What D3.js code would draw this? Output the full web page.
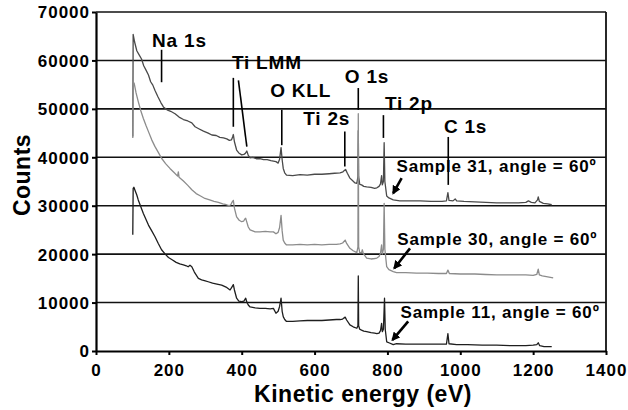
<!DOCTYPE html>
<html><head><meta charset="utf-8">
<script src="https://cdn.jsdelivr.net/npm/d3@7"></script>
<style>body{margin:0;background:#fff}text{font-family:"Liberation Sans",Arial,sans-serif;font-weight:bold;fill:#000}</style>
</head><body><svg id="c" width="628" height="410"></svg>
<script>
const xTicks=[0,200,400,600,800,1000,1200,1400];
const yTicks=[0,10000,20000,30000,40000,50000,60000,70000];
const sample31=[[101,44300],[102,65400],[106,63800],[112,62000],[118,61200],[125,60300],[131,58900],[138,57900],[144,57000],[150,55600],[156,54900],[162,53800],[170,52500],[178,51300],[185,50400],[195,49800],[205,49500],[217,49000],[228,48300],[240,47800],[252,47500],[263,47100],[272,46300],[282,45900],[295,45400],[308,45000],[318,44600],[330,44500],[340,44100],[350,44000],[359,43800],[366,43500],[372,43600],[375,44200],[377,44700],[380,43200],[386,41500],[392,40900],[400,40500],[406,40600],[410,40800],[414,41300],[418,40400],[423,39900],[430,40000],[440,39700],[450,39700],[460,39500],[470,39500],[480,39300],[487,39200],[494,39100],[500,38800],[504,39600],[508,42000],[511,39500],[514,37700],[518,36800],[523,36300],[540,36200],[560,36400],[580,36300],[600,36500],[620,36500],[640,36600],[655,36700],[670,36800],[678,37000],[685,37500],[690,36700],[697,35700],[704,35200],[711,34700],[716,34600],[719,36000],[720,45500],[721,36000],[724,34400],[729,34300],[735,34000],[743,33900],[755,33800],[765,33600],[771,33700],[777,34000],[781,34500],[784,36200],[786,34300],[789,35000],[791,43000],[793,35000],[798,32000],[804,31600],[816,31200],[834,31000],[860,31000],[890,31000],[920,30900],[950,30900],[962,31000],[966,32700],[969,31100],[980,31000],[986,31400],[990,31000],[1010,30900],[1040,30800],[1070,30700],[1100,30600],[1130,30600],[1160,30600],[1180,30700],[1187,31000],[1195,30700],[1205,30600],[1212,31200],[1214,31800],[1217,30900],[1228,30500],[1240,30400],[1251,30200]];
const sample30=[[101,44000],[102,55600],[105,55200],[110,53300],[116,51500],[123,49600],[130,48000],[137,46600],[144,45300],[153,43600],[162,42200],[171,41000],[180,39800],[191,38700],[203,37700],[215,36800],[224,36100],[226,37000],[228,35900],[240,35100],[252,34200],[263,33300],[275,32500],[287,32000],[299,31500],[312,31200],[324,30900],[336,30700],[348,30400],[358,30200],[365,30000],[370,30200],[374,30800],[377,31100],[380,29500],[386,27700],[393,27000],[400,26700],[405,26800],[409,27300],[411,27400],[414,26600],[418,25600],[423,25000],[437,24600],[450,24600],[465,24700],[478,24600],[487,24600],[494,24200],[500,24500],[504,25500],[508,28000],[511,24800],[514,22900],[518,22300],[523,21900],[540,21900],[560,22000],[580,21900],[600,22000],[620,21900],[640,22000],[660,22000],[670,22100],[677,22300],[684,22900],[688,22200],[697,21200],[706,20700],[716,20300],[719,21500],[720,49000],[721,21500],[724,20300],[729,20300],[731,20900],[734,20100],[743,19200],[755,19000],[765,19100],[771,19200],[777,19500],[781,20200],[784,21900],[786,20000],[789,21000],[791,30500],[793,21000],[798,17400],[804,16800],[816,16400],[825,16200],[850,16200],[880,16100],[910,16100],[940,16000],[962,16000],[966,16700],[970,16000],[1000,15900],[1040,15900],[1070,15800],[1100,15700],[1140,15700],[1180,15700],[1200,15600],[1210,15800],[1214,16900],[1217,15700],[1225,15500],[1240,15300],[1255,15100]];
const sample11=[[101,24000],[102,33600],[104,33800],[107,33200],[112,32200],[116,31200],[123,29800],[130,28400],[137,27200],[144,26000],[153,24800],[162,23600],[171,22200],[180,20900],[190,20000],[199,19300],[210,18800],[220,18300],[230,18000],[240,17800],[248,17600],[253,17400],[258,17700],[263,17400],[270,16300],[281,15000],[290,14700],[300,14500],[308,14300],[320,14000],[332,13800],[345,13600],[357,13200],[368,12600],[373,13200],[377,13700],[380,12600],[386,10900],[392,10300],[400,10200],[406,10300],[411,10900],[414,10100],[418,9500],[423,9100],[437,8900],[450,8800],[465,8800],[478,8700],[487,8800],[494,7800],[500,8200],[504,9200],[508,10900],[511,8200],[514,7100],[518,6500],[523,6100],[540,6100],[560,6200],[580,6300],[600,6300],[620,6300],[640,6400],[660,6500],[670,6500],[677,6600],[684,7000],[688,6400],[697,5400],[706,5000],[716,4700],[719,5200],[720,15500],[721,5200],[724,4500],[729,4300],[735,4100],[743,4000],[755,3800],[765,3700],[771,3600],[777,3700],[781,4200],[784,5700],[786,4000],[789,4500],[792,10900],[794,4500],[798,1900],[804,1700],[816,1300],[825,1500],[850,1400],[880,1400],[910,1400],[940,1400],[962,1400],[966,3600],[969,1500],[990,1300],[1020,1300],[1060,1200],[1100,1200],[1140,1100],[1180,1100],[1200,1200],[1210,1300],[1214,1700],[1218,1100],[1230,900],[1251,900]];
// peak labels: text anchor (eV, counts), pointer lines [[eV,counts],[eV,counts]]
const peakLabels=[
 {t:"Na 1s",x:154,y:62800,lines:[[[180,62200],[180,55500]]]},
 {t:"Ti LMM",x:373,y:58200,lines:[[[377,56400],[377,46300]],[[391,55900],[414,42200]]]},
 {t:"O KLL",x:478,y:52400,lines:[[[510,49800],[510,42500]]]},
 {t:"Ti 2s",x:569,y:46700,lines:[[[683,45300],[683,38100]]]},
 {t:"O 1s",x:683,y:55400,lines:[[[720,54300],[720,49800]]]},
 {t:"Ti 2p",x:793,y:49800,lines:[[[789,48700],[789,44000]]]},
 {t:"C 1s",x:955,y:45100,lines:[[[967,44200],[967,34300]]]}
];
const sampleLabels=[
 {t:"Sample 31, angle = 60º",x:825,y:37000,a:[[839,35700],[816,32600]]},
 {t:"Sample 30, angle = 60º",x:827,y:21900,a:[[862,21200],[819,17100]]},
 {t:"Sample 11, angle = 60º",x:836,y:6900,a:[[857,6100],[814,2300]]}
];
const svg=d3.select("#c");
const x=d3.scaleLinear().domain([0,1400]).range([96,606]);
const y=d3.scaleLinear().domain([0,70000]).range([351,12]);
svg.append("defs").append("marker").attr("id","ah").attr("viewBox","0 0 10 10").attr("refX",8).attr("refY",5)
 .attr("markerWidth",3.4).attr("markerHeight",3.4).attr("orient","auto").append("path").attr("d","M0,0L10,5L0,10Z").attr("fill","#000");
// gridlines
svg.append("g").selectAll("line").data(yTicks.filter(d=>d>0)).join("line")
 .attr("x1",x(0)).attr("x2",x(1400)).attr("y1",d=>y(d)).attr("y2",d=>y(d)).attr("stroke","#111").attr("stroke-width",1.6);
svg.append("line").attr("x1",x(1400)).attr("x2",x(1400)).attr("y1",y(70000)).attr("y2",y(0)).attr("stroke","#111").attr("stroke-width",1.8);
// curves
const line=d3.line().x(d=>x(d[0])).y(d=>y(d[1]));
[[sample31,"#4a4a4a"],[sample11,"#1e1e1e"],[sample30,"#8c8c8c"]].forEach(([s,c])=>{
 svg.append("path").datum(s).attr("d",line).attr("fill","none").attr("stroke",c).attr("stroke-width",1.3).attr("stroke-linejoin","round");
});
// axes
const ax=svg.append("g").attr("transform",`translate(0,${y(0)})`).call(d3.axisBottom(x).tickValues(xTicks).tickSize(4).tickSizeOuter(0).tickFormat(d3.format("d")));
const ay=svg.append("g").attr("transform",`translate(${x(0)},0)`).call(d3.axisLeft(y).tickValues(yTicks).tickSize(4).tickSizeOuter(0).tickFormat(d3.format("d")));
[ax,ay].forEach(g=>{g.select(".domain").attr("stroke","#000").attr("stroke-width",2.2);g.selectAll(".tick line").attr("stroke","#000").attr("stroke-width",2);
 g.selectAll("text").style("font-size","17px").attr("letter-spacing","1px").attr("fill","#000");});
ax.selectAll("text").attr("dy",null).attr("y",25);
ay.selectAll("text").attr("x",-6).attr("dy","0.35em");
// axis titles
svg.append("text").attr("x",363).attr("y",402).attr("text-anchor","middle").style("font-size","23px").attr("letter-spacing","0.5px").text("Kinetic energy (eV)");
svg.append("text").attr("transform","translate(30,175) rotate(-90)").attr("text-anchor","middle").style("font-size","23px").attr("letter-spacing","0.5px").text("Counts");
// peak labels
peakLabels.forEach(p=>{
 svg.append("text").attr("x",x(p.x)).attr("y",y(p.y)).style("font-size","19px").attr("letter-spacing","0.8px").text(p.t);
 p.lines.forEach(l=>svg.append("line").attr("x1",x(l[0][0])).attr("y1",y(l[0][1])).attr("x2",x(l[1][0])).attr("y2",y(l[1][1])).attr("stroke","#000").attr("stroke-width",1.6));
});
sampleLabels.forEach(p=>{
 svg.append("text").attr("x",x(p.x)).attr("y",y(p.y)).style("font-size","17px").attr("letter-spacing","0.8px").text(p.t);
 svg.append("line").attr("x1",x(p.a[0][0])).attr("y1",y(p.a[0][1])).attr("x2",x(p.a[1][0])).attr("y2",y(p.a[1][1])).attr("stroke","#000").attr("stroke-width",2.6).attr("marker-end","url(#ah)");
});
</script></body></html>
